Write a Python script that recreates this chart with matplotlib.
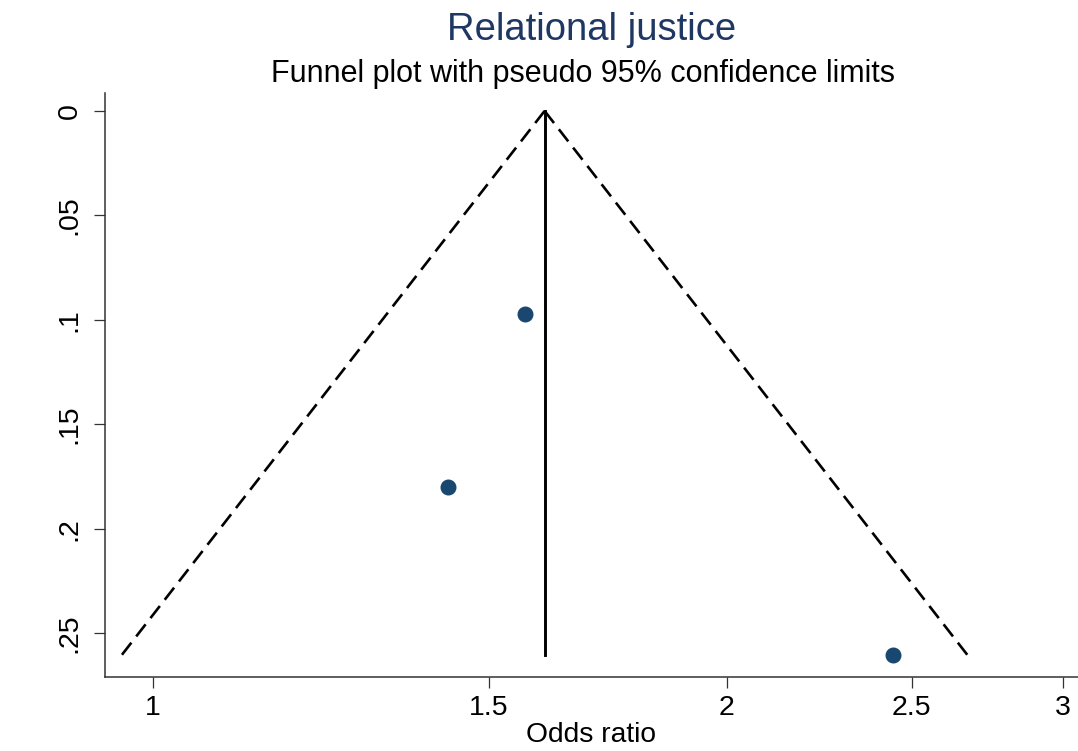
import numpy as np
import matplotlib
matplotlib.use("Agg")
from matplotlib import pyplot as plt

# study estimates
odds_ratio = [1.567, 1.428, 2.444]
std_err = [0.0972, 0.180, 0.2605]
pooled_or = 1.605

x_ticks = [1, 1.5, 2, 2.5, 3]
x_tick_labels = ["1", "1.5", "2", "2.5", "3"]
y_ticks = [0, 0.05, 0.1, 0.15, 0.2, 0.25]
y_tick_labels = ["0", ".05", ".1", ".15", ".2", ".25"]


def main():
    plt.rcParams["font.family"] = ["Liberation Sans", "DejaVu Sans"]
    fig = plt.figure(figsize=(10.78, 7.51), dpi=100)
    ax = fig.add_axes([0.0974, 0.0985, 0.9026, 0.7777])

    se_max = max(std_err)
    se_line = np.array([0.0, se_max])
    log_pool = np.log(pooled_or)
    lower = np.exp(log_pool - 1.96 * se_line)
    upper = np.exp(log_pool + 1.96 * se_line)

    dash = (0, (5.8, 3.0))
    ax.plot(lower, se_line, color="black", lw=1.9, linestyle=dash)
    ax.plot(upper, se_line, color="black", lw=1.9, linestyle=dash)
    ax.plot([pooled_or, pooled_or], se_line, color="black", lw=2.1)
    ax.plot(odds_ratio, std_err, "o", color="#1a476f", markersize=10.5, zorder=3)

    ax.set_xscale("log")
    ax.set_xlim(0.944, 3.056)
    ax.set_ylim(0.271, -0.0086)
    ax.set_xticks(x_ticks)
    ax.set_xticklabels(x_tick_labels)
    ax.xaxis.set_minor_locator(matplotlib.ticker.NullLocator())
    ax.set_yticks(y_ticks)
    ax.set_yticklabels(y_tick_labels, rotation=90, va="center")

    for side in ["top", "right"]:
        ax.spines[side].set_visible(False)
    for side in ["left", "bottom"]:
        ax.spines[side].set_linewidth(1.1)
        ax.spines[side].set_color("#333333")
    ax.tick_params(axis="both", length=8, width=0.9, color="#333333", labelsize=20.5)
    ax.tick_params(axis="x", pad=5)
    ax.tick_params(axis="y", pad=8)

    ax.set_xlabel("Odds ratio", fontsize=20.3, labelpad=1)

    fig.text(0.549, 0.960, "Relational justice", ha="center", va="center",
             fontsize=27.5, color="#1f3763")
    fig.text(0.541, 0.902, "Funnel plot with pseudo 95% confidence limits",
             ha="center", va="center", fontsize=22)

    fig.savefig("out.png", dpi=100)


if __name__ == '__main__':
    main()
